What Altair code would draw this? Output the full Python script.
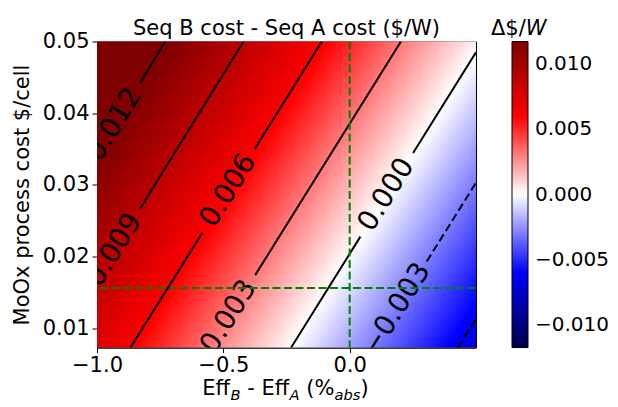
import altair as alt
import pandas as pd

# ---- values ----
x_range = [-1.0, 0.5]
y_range = [0.0073, 0.05]
x_ticks = [-1.0, -0.5, 0.0]
y_ticks = [0.01, 0.02, 0.03, 0.04, 0.05]

# field value ($/W) read at three corners of the plot (field is planar)
corner_top_left = 0.0145
corner_top_right = 0.0003
corner_bottom_left = 0.0073

cbar_limits = [-0.0117, 0.0117]
cbar_ticks = [-0.010, -0.005, 0.0, 0.005, 0.010]
seismic = ["#00004c", "#0000ff", "#ffffff", "#ff0000", "#7f0000"]

# contour line segments (gaps left where the inline labels sit)
seg_id = ["a", "a", "b", "b", "c", "c", "d", "d", "e", "e",
          "f", "f", "g", "g", "h", "h", "i", "i"]
seg_level = [0.012, 0.012, 0.009, 0.009, 0.006, 0.006, 0.006, 0.006,
             0.003, 0.003, 0.0, 0.0, 0.0, 0.0, -0.003, -0.003, -0.006, -0.006]
seg_x = [-0.73, -0.829, -0.42, -0.829, -0.11, -0.376, -0.583, -0.8675,
         0.203, -0.374, 0.5, 0.251, 0.0425, -0.2316, 0.5, 0.305, 0.5, 0.429]
seg_y = [0.05, 0.0442, 0.05, 0.0267, 0.05, 0.0350, 0.0233, 0.0073,
         0.05, 0.0174, 0.0485, 0.03445, 0.02277, 0.0073, 0.0303, 0.0193,
         0.0113, 0.0073]

label_text = ["0.012", "0.009", "0.006", "0.003", "0.000", "\u22120.003"]
label_x = [-0.932, -0.932, -0.4795, -0.4775, 0.146, 0.186]
label_y = [0.0384, 0.0209, 0.0292, 0.0116, 0.0286, 0.0126]

guide_x = [0.0]
guide_y = [0.0156]

# ---- layout ----
W, H = 379, 306
FONT = "DejaVu Sans"

xs = alt.Scale(domain=x_range, nice=False, zero=False)
ys = alt.Scale(domain=y_range, nice=False, zero=False)
x_axis = alt.Axis(values=x_ticks, format=".1f", title=None, labelFlush=False,
                  labelPadding=2)
y_axis = alt.Axis(values=y_ticks, format=".2f", title="MoOx process cost $/cell",
                  titlePadding=10, labelFlush=False)


def X(f):
    return alt.X(f, type="quantitative", scale=xs, axis=x_axis)


def Y(f):
    return alt.Y(f, type="quantitative", scale=ys, axis=y_axis)


# planar field drawn as a linear gradient over the plot rectangle
gu = corner_top_right - corner_top_left
gv = corner_bottom_left - corner_top_left
gg = gu * gu + gv * gv
t_hi = (cbar_limits[1] - corner_top_left) / gg
t_lo = (cbar_limits[0] - corner_top_left) / gg
gradient = {
    "gradient": "linear",
    "x1": t_hi * gu, "y1": t_hi * gv,
    "x2": t_lo * gu, "y2": t_lo * gv,
    "stops": [{"offset": i / 4, "color": c} for i, c in enumerate(reversed(seismic))],
}

field_df = pd.DataFrame({"x": [x_range[0]], "x2": [x_range[1]],
                         "y": [y_range[0]], "y2": [y_range[1]]})
heat = alt.Chart(field_df).mark_rect(fill=gradient).encode(
    x=X("x"), x2="x2", y=Y("y"), y2="y2")

# colour bar legend
lo, hi = cbar_limits
cbar = alt.Chart(pd.DataFrame({"v": cbar_ticks})).mark_point(
    size=0, strokeWidth=0, opacity=1).encode(
    color=alt.Color(
        "v:Q",
        scale=alt.Scale(domain=[lo, lo / 2, 0, hi / 2, hi], range=seismic, interpolate="rgb"),
        legend=alt.Legend(
            title=None, orient="none", legendX=415, legendY=0, direction="vertical",
            gradientLength=H, gradientThickness=16, gradientStrokeColor="black",
            gradientStrokeWidth=1, gradientOpacity=1, values=cbar_ticks, format=".3f",
            labelFontSize=20, labelFont=FONT, labelColor="black", labelOffset=7,
            labelLimit=200, padding=0,
        ),
    )
)

contour_df = pd.DataFrame({"seg": seg_id, "level": seg_level, "x": seg_x, "y": seg_y})
solid = alt.Chart(contour_df).transform_filter("datum.level >= 0").mark_line(
    color="black", strokeWidth=2, clip=True).encode(x=X("x"), y=Y("y"), detail="seg:N")
dashed = alt.Chart(contour_df).transform_filter("datum.level < 0").mark_line(
    color="black", strokeWidth=2, strokeDash=[8, 4], clip=True).encode(
    x=X("x"), y=Y("y"), detail="seg:N")

labels_df = pd.DataFrame({"label": label_text, "x": label_x, "y": label_y})
labels = alt.Chart(labels_df).mark_text(
    angle=302, fontSize=28, font=FONT, color="black", align="center",
    baseline="middle", clip=True).encode(x=X("x"), y=Y("y"), text="label:N")

vguide = alt.Chart(pd.DataFrame({"gx": guide_x})).mark_rule(
    color="green", strokeWidth=2, strokeDash=[8, 3.5]).encode(x=X("gx"))
hguide = alt.Chart(pd.DataFrame({"gy": guide_y})).mark_rule(
    color="green", strokeWidth=2, strokeDash=[8, 3.5]).encode(y=Y("gy"))


def ptext(txt, px, py, size=21, italic=False, align="left"):
    return alt.Chart(pd.DataFrame({"t": [txt]})).mark_text(
        font=FONT, fontSize=size, fontStyle="italic" if italic else "normal",
        fontWeight="normal", color="black", align=align, baseline="alphabetic").encode(
        x=alt.value(px), y=alt.value(py), text="t:N")


TB = -7  # title baseline (relative to plot top)
XB = 353.5  # x-title baseline
SUB = 4.5
title_parts = [
    ptext("Seq B cost - Seq A cost ($/W)", W / 2, TB, align="center"),
    ptext("\u0394$/", 394, TB),
    ptext("W", 428.8, TB, italic=True),
    ptext("Eff", 105.3, XB),
    ptext("B", 133.4, XB + SUB, size=14.7, italic=True),
    ptext("- Eff", 150.2, XB),
    ptext("A", 192.5, XB + SUB, size=14.7, italic=True),
    ptext("(%", 209.3, XB),
    ptext("abs", 237.4, XB + SUB, size=14.7, italic=True),
    ptext(")", 263.4, XB),
]

chart = alt.layer(heat, solid, dashed, labels, vguide, hguide, cbar, *title_parts).properties(
    width=W, height=H,
    autosize=alt.AutoSizeParams(type="none"),
    padding={"left": 89, "top": 33.5, "right": 134, "bottom": 59},
).configure_view(stroke="black", strokeWidth=1).configure_axis(
    labelFont=FONT, labelFontSize=21, labelColor="black", titleFont=FONT,
    titleFontSize=21, titleFontWeight="normal", titleColor="black",
    tickColor="black", tickSize=5, tickWidth=1, domainColor="black", domainWidth=1,
    labelPadding=3, grid=False,
)

chart.save("out.html", embed_options={"renderer": "svg", "actions": False})
